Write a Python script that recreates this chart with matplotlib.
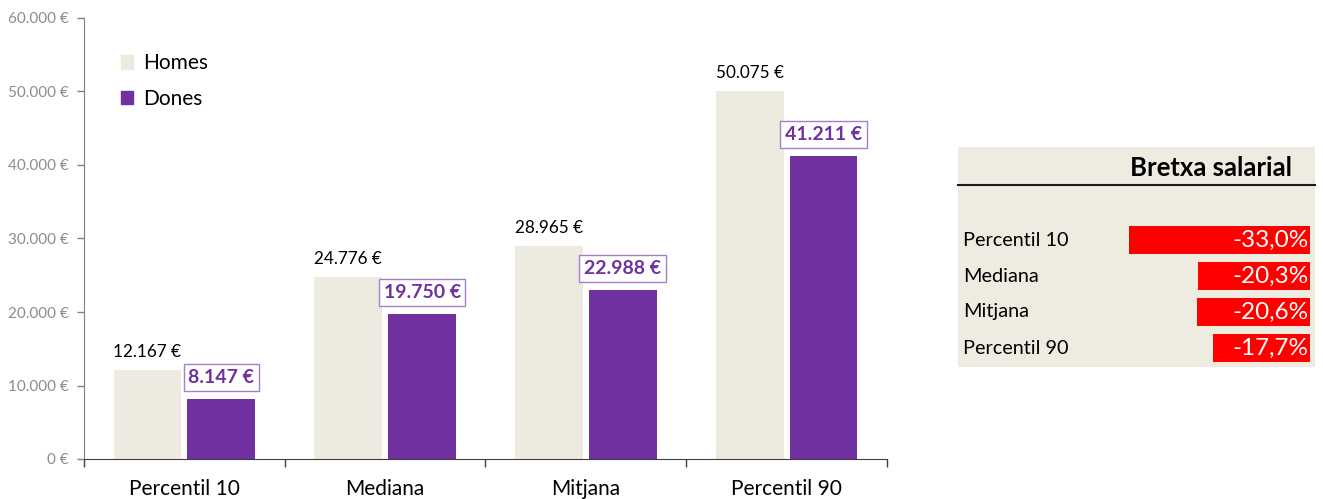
import matplotlib.pyplot as plt
import numpy as np
from matplotlib.patches import Patch
from matplotlib.ticker import FuncFormatter

plt.rcParams['font.family'] = ['Lato', 'DejaVu Sans']

# Data
categories = ['Percentil 10', 'Mediana', 'Mitjana', 'Percentil 90']
homes = [12167, 24776, 28965, 50075]
dones = [8147, 19750, 22988, 41211]
gap_pct = [-33.0, -20.3, -20.6, -17.7]
gap_labels = ['-33,0%', '-20,3%', '-20,6%', '-17,7%']

c_homes = '#EDEBE0'
c_dones = '#7030A0'
c_red = '#FF0000'


def eur(v):
    return f'{int(v):,}'.replace(',', '.') + ' €'


fig = plt.figure(figsize=(13.23, 4.99), dpi=100)

# ---- main bar chart ----
ax = fig.add_axes([84 / 1323, 40 / 499, 803 / 1323, 441 / 499])
x = np.arange(len(categories))
w = 0.338
off = 0.184
ax.bar(x - off, homes, w, color=c_homes)
ax.bar(x + off, dones, w, color=c_dones)

for xi, v in zip(x, homes):
    ax.annotate(eur(v), (xi - off, v), xytext=(0, 13), textcoords='offset points',
                ha='center', va='center', fontsize=12.3, color='black')
for xi, v in zip(x, dones):
    ax.annotate(eur(v), (xi + off, v), xytext=(0, 15.5), textcoords='offset points',
                ha='center', va='center', fontsize=14, fontweight='bold', color=c_dones,
                bbox=dict(boxstyle='square,pad=0.25', fc='white', ec='#A77FC9', lw=1))

ax.set_xlim(-0.5, 3.5)
ax.set_ylim(0, 60000)
ax.set_yticks(np.arange(0, 60001, 10000))
ax.yaxis.set_major_formatter(FuncFormatter(lambda v, p: eur(v)))
ax.tick_params(axis='y', colors='#808080', labelsize=11, length=5, width=1, pad=6)
ax.tick_params(axis='y', labelcolor='#8C8C8C')
ax.set_xticks(x)
ax.set_xticklabels(categories, fontsize=15)
ax.tick_params(axis='x', length=0, pad=14.5)
ax.set_xticks(np.arange(-0.5, 4, 1), minor=True)
ax.tick_params(axis='x', which='minor', length=6, color='#404040', width=1)

for s in ['top', 'right']:
    ax.spines[s].set_visible(False)
ax.spines['left'].set_color('#808080')
ax.spines['bottom'].set_color('#404040')

handles = [Patch(color=c_homes, label='Homes'), Patch(color=c_dones, label='Dones')]
ax.legend(handles=handles, loc='upper left', bbox_to_anchor=(0.046, 0.92), frameon=False,
          fontsize=15, handlelength=0.6, handleheight=0.6, handletextpad=0.45,
          labelspacing=0.75, borderpad=0, borderaxespad=0)

# ---- gap table ----
tx = fig.add_axes([958 / 1323, (499 - 367) / 499, 357 / 1323, 220 / 499])
tx.set_facecolor('#EEECE1')
tx.set_xlim(-64, 0.9)
tx.set_ylim(220, 0)
rows = 93 + 36 * np.arange(len(categories))
tx.barh(rows, gap_pct, height=28, color=c_red)
for r, name, lab in zip(rows, categories, gap_labels):
    tx.text(-63.1, r, name, ha='left', va='center', fontsize=14.3, color='black')
    tx.text(-0.2, r, lab, ha='right', va='center', fontsize=17.5, color='white')
tx.text(-3.3, 21, 'Bretxa salarial', ha='right', va='center', fontsize=18.5, fontweight='bold')
tx.plot([-64, 0.9], [38, 38], color='#1a1a1a', lw=1.5, clip_on=False)
tx.set_xticks([])
tx.set_yticks([])
for s in tx.spines.values():
    s.set_visible(False)

fig.savefig('out.png', dpi=100)
